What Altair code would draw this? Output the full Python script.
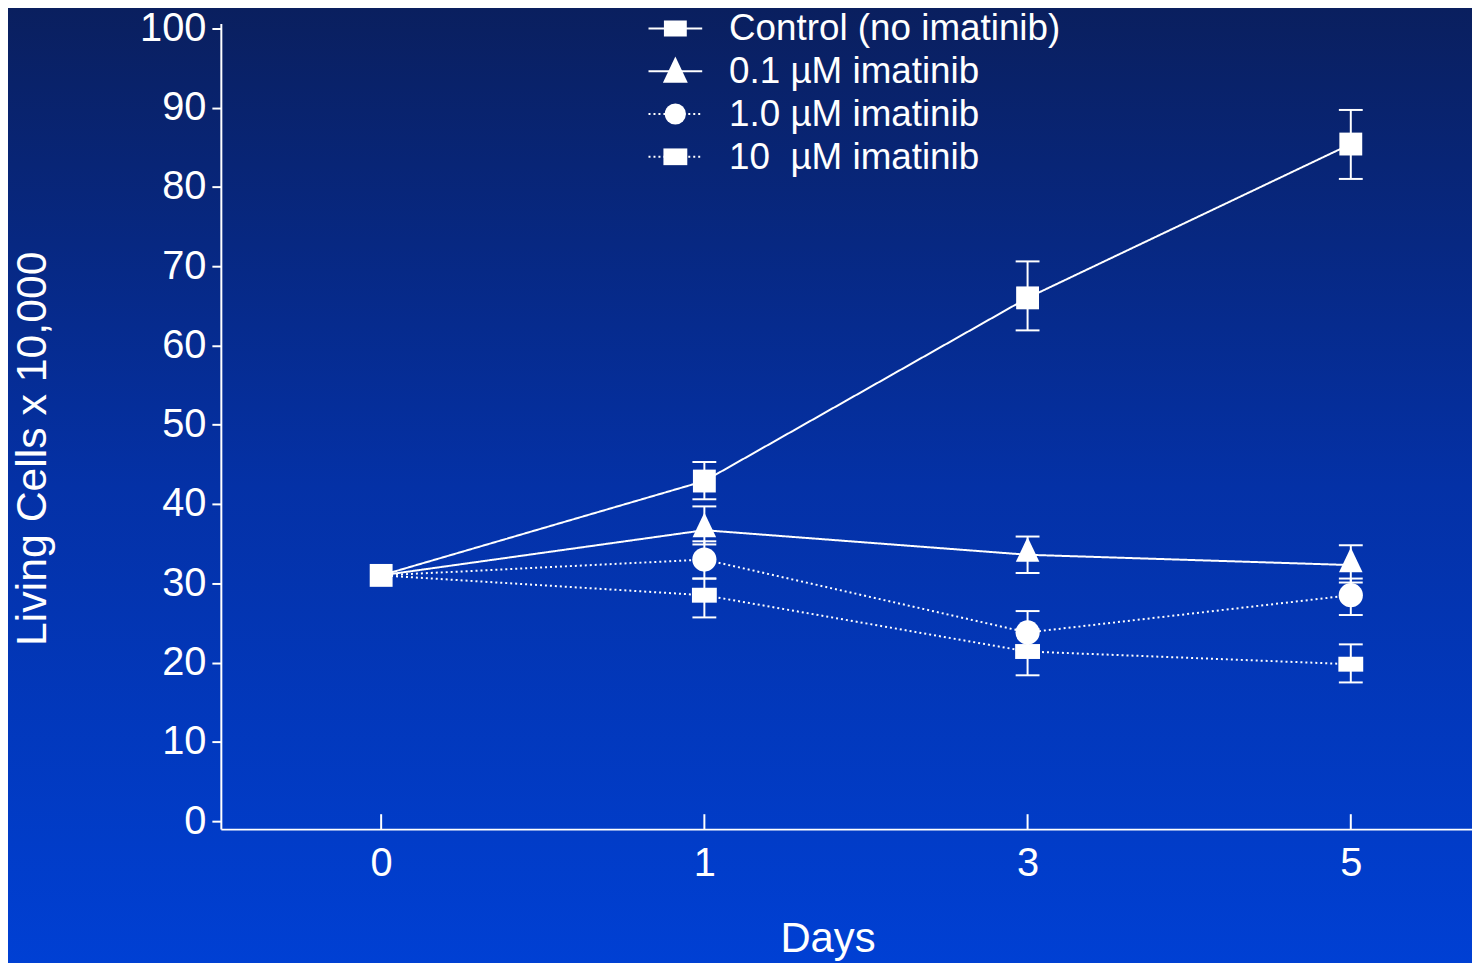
import altair as alt
import pandas as pd
import numpy as np

# ---------------- data ----------------
day_labels = ["0", "1", "3", "5"]
day_pos = [0, 1, 2, 3]

series_names = ["Control (no imatinib)", "0.1 µM imatinib", "1.0 µM imatinib", "10\u00a0 µM imatinib"]

control = [31.0, 42.9, 66.0, 85.4]
control_lo = [np.nan, 40.6, 61.9, 81.0]
control_hi = [np.nan, 45.3, 70.6, 89.7]

im01 = [31.0, 36.7, 33.6, 32.3]
im01_lo = [np.nan, 34.9, 31.3, 30.1]
im01_hi = [np.nan, 39.7, 35.9, 34.8]

im10 = [31.0, 33.0, 23.8, 28.5]
im10_lo = [np.nan, 30.6, 21.6, 26.0]
im10_hi = [np.nan, 35.3, 26.5, 30.6]

im100 = [31.0, 28.5, 21.4, 19.8]
im100_lo = [np.nan, 25.7, 18.4, 17.5]
im100_hi = [np.nan, 30.6, 24.2, 22.3]

y_ticks = [0, 10, 20, 30, 40, 50, 60, 70, 80, 90, 100]

# ---------------- build table ----------------
vals = [control, im01, im10, im100]
los = [control_lo, im01_lo, im10_lo, im100_lo]
his = [control_hi, im01_hi, im10_hi, im100_hi]
rows = []
for s, v, lo, hi in zip(series_names, vals, los, his):
    for i, d in enumerate(day_pos):
        rows.append({"series": s, "day": d, "label": day_labels[i],
                     "value": v[i], "lo": lo[i], "hi": hi[i]})
df = pd.DataFrame(rows)
err_df = df.dropna(subset=["lo"])
# on day 0 the curves share one starting point drawn as a single square
mark_df = df[(df["day"] > 0) | (df["series"] == series_names[0])]

W, H = 1258, 810
FONT = "Liberation Sans"
WHITE = "#ffffff"

tri_path = "M0,-1.5L1,0.6L-1,0.6Z"
rect_path = "M-1,-0.6L1,-0.6L1,0.6L-1,0.6Z"
shape_range = ["square", tri_path, "circle", rect_path]
size_range = [529, 625, 452, 900]
dash_range = [[1, 0], [1, 0], [2, 3], [2, 3]]

xscale = alt.Scale(domain=[-0.496, 3.375], nice=False, zero=False)
yscale = alt.Scale(domain=[-1.0, 100.6], nice=False, zero=False)

x_enc = alt.X("day:Q", scale=xscale,
              axis=alt.Axis(values=day_pos, labelExpr="['0','1','3','5'][datum.value]",
                            ticks=False, tickSize=0, grid=False, domainColor=WHITE,
                            domainWidth=2, labelColor=WHITE, labelFontSize=40, labelFont=FONT,
                            labelPadding=15, title="Days", titleFont=FONT, titleFontSize=42,
                            titleFontWeight="normal", titleColor=WHITE, titleX=610, titleY=110,
                            titleBaseline="middle", titleAnchor="start", titleAlign="center",
                            zindex=1))
y_enc = alt.Y("value:Q", scale=yscale,
              axis=alt.Axis(values=y_ticks, grid=False, domainColor=WHITE, domainWidth=2,
                            tickColor=WHITE, tickWidth=2, tickSize=9, labelColor=WHITE,
                            labelFontSize=40, labelFont=FONT, labelPadding=6,
                            title="Living Cells x 10,000", titleFont=FONT, titleFontSize=43,
                            titleFontWeight="normal", titleColor=WHITE, titleAngle=-90,
                            titleX=-189, titleY=427, titleBaseline="middle",
                            titleAlign="center", titleAnchor="start", zindex=1))

# background gradient covering the whole canvas
bg = alt.Chart(pd.DataFrame({"a": [0]})).mark_rect(
    color=alt.LinearGradient(
        gradient="linear", x1=0, y1=0, x2=0, y2=1,
        stops=[alt.GradientStop(offset=0, color="#0a1f5e"),
               alt.GradientStop(offset=0.5, color="#0431a6"),
               alt.GradientStop(offset=1, color="#0040d4")]),
    clip=False
).encode(x=alt.value(-214), x2=alt.value(W + 10), y=alt.value(-20), y2=alt.value(H + 140))

lines = alt.Chart(df).mark_line(color=WHITE, strokeWidth=2).encode(
    x=x_enc, y=y_enc, detail="series:N",
    strokeDash=alt.StrokeDash("series:N", scale=alt.Scale(domain=series_names, range=dash_range),
                              legend=None),
    order="day:Q")

err_rule = alt.Chart(err_df).mark_rule(color=WHITE, strokeWidth=2).encode(
    x="day:Q", y="lo:Q", y2="hi:Q")
cap_lo = alt.Chart(err_df).mark_tick(color=WHITE, orient="horizontal", size=24,
                                     thickness=2, opacity=1).encode(x="day:Q", y="lo:Q")
cap_hi = alt.Chart(err_df).mark_tick(color=WHITE, orient="horizontal", size=24,
                                     thickness=2, opacity=1).encode(x="day:Q", y="hi:Q")

points = alt.Chart(mark_df).mark_point(filled=True, color=WHITE, opacity=1, strokeWidth=0).encode(
    x="day:Q", y="value:Q",
    shape=alt.Shape("series:N", scale=alt.Scale(domain=series_names, range=shape_range), legend=None),
    size=alt.Size("series:N", scale=alt.Scale(domain=series_names, range=size_range), legend=None))

# inward x-axis ticks
xt = alt.Chart(pd.DataFrame({"day": day_pos})).mark_rule(color=WHITE, strokeWidth=2).encode(
    x="day:Q", y=alt.value(H - 15), y2=alt.value(H))

# manual legend
leg_rows = [5, 48, 91, 134]
leg_dash = [[1, 0], [1, 0], [2, 3], [2, 3]]
leg_shapes = ["M-1,-0.7L1,-0.7L1,0.7L-1,0.7Z", tri_path, "circle", "M-1,-0.7L1,-0.7L1,0.7L-1,0.7Z"]
leg_sizes = [529, 625, 452, 576]
legend_layers = []
for i, name in enumerate(series_names):
    one = pd.DataFrame({"series": [name]})
    ly = leg_rows[i]
    legend_layers.append(alt.Chart(one).mark_rule(color=WHITE, strokeWidth=2,
                                                  strokeDash=leg_dash[i]).encode(
        x=alt.value(430), x2=alt.value(484), y=alt.value(ly)))
    legend_layers.append(alt.Chart(one).mark_point(filled=True, color=WHITE, opacity=1,
                                                   strokeWidth=0, shape=leg_shapes[i],
                                                   size=leg_sizes[i]).encode(
        x=alt.value(457), y=alt.value(ly + (4 if i == 1 else 0))))
    legend_layers.append(alt.Chart(one).mark_text(color=WHITE, font=FONT, fontSize=37,
                                                  align="left", baseline="middle").encode(
        x=alt.value(511), y=alt.value(ly + 1), text="series:N"))

chart = alt.layer(bg, lines, err_rule, cap_lo, cap_hi, points, xt, *legend_layers).properties(
    width=W, height=H,
    autosize=alt.AutoSizeParams(type="none"),
    padding={"left": 214, "top": 13, "right": 0, "bottom": 132},
    background="#0a2a8a",
).configure_view(stroke=None)

chart.save("out.html", embed_options={"renderer": "svg", "actions": False})
